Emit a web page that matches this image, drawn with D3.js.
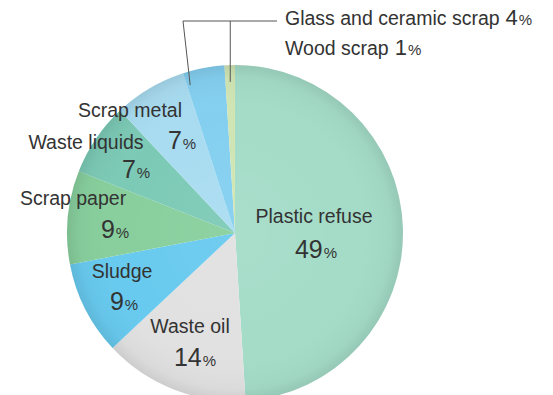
<!DOCTYPE html>
<html>
<head>
<meta charset="utf-8">
<script src="https://cdn.jsdelivr.net/npm/d3@7"></script>
<style>
  html, body { margin: 0; padding: 0; background: #ffffff; }
  svg { display: block; }
  text { font-family: "Liberation Sans", Arial, Helvetica, sans-serif; fill: #333333; }
</style>
</head>
<body>
<svg id="chart" width="553" height="395"></svg>
<script>
// Breakdown of industrial waste by type (percent), clockwise from 12 o'clock
const categories = ["Plastic refuse", "Waste oil", "Sludge", "Scrap paper",
                    "Waste liquids", "Scrap metal", "Glass and ceramic scrap", "Wood scrap"];
const shares = [49, 14, 9, 9, 7, 7, 4, 1];
const sliceColors = ["#a4dcc8", "#e1e1e1", "#68caef", "#88cf9d",
                     "#7bcab6", "#a9dcf1", "#84cff0", "#d0e5b3"];

// Label placement relative to the pie centre: [name dx, name dy, value dx, value dy]
const labelOffsets = [
  [79, -10, 81, 25],
  [-45, 100, -40, 133],
  [-113, 45, -111, 77],
  [-162, -28, -120, 5],
  [-149, -84, -99, -55],
  [-105, -116, -53, -84]
];
// Outside labels (glass, wood) sit in a column at the top right
const outsideLabel = { x: 285, y: [25, 55] };

const width = 553, height = 395;
const cx = 235, cy = 233, radius = 168;

const svg = d3.select("#chart");
const defs = svg.append("defs");

// Soft shading towards the rim of the disc
const shade = defs.append("radialGradient").attr("id", "rimShade")
  .attr("cx", "50%").attr("cy", "50%").attr("r", "50%");
shade.append("stop").attr("offset", "0%").attr("stop-color", "#ffffff").attr("stop-opacity", 0.06);
shade.append("stop").attr("offset", "70%").attr("stop-color", "#ffffff").attr("stop-opacity", 0);
shade.append("stop").attr("offset", "93%").attr("stop-color", "#000000").attr("stop-opacity", 0.03);
shade.append("stop").attr("offset", "100%").attr("stop-color", "#000000").attr("stop-opacity", 0.09);

const blur = defs.append("filter").attr("id", "soft").attr("x", "-5%").attr("y", "-5%")
  .attr("width", "110%").attr("height", "110%");
blur.append("feGaussianBlur").attr("stdDeviation", 0.6);

const g = svg.append("g").attr("transform", `translate(${cx},${cy})`);

const data = categories.map((c, i) => ({ name: c, value: shares[i], color: sliceColors[i] }));
const pie = d3.pie().value(d => d.value).sort(null);
const arcs = pie(data);
const arc = d3.arc().innerRadius(0).outerRadius(radius);

const slices = g.append("g").attr("filter", "url(#soft)");
slices.selectAll("path").data(arcs).join("path")
  .attr("d", arc)
  .attr("fill", d => d.data.color);

g.append("circle").attr("r", radius).attr("fill", "url(#rimShade)");

// Inside labels: name line, then value with a smaller percent sign
arcs.slice(0, 6).forEach((a, i) => {
  const [nx, ny, vx, vy] = labelOffsets[i];
  g.append("text").attr("x", nx).attr("y", ny)
    .attr("text-anchor", "middle").attr("font-size", 19.5)
    .text(a.data.name);
  const v = g.append("text").attr("x", vx).attr("y", vy)
    .attr("text-anchor", "middle");
  v.append("tspan").attr("font-size", 25).text(a.data.value);
  v.append("tspan").attr("font-size", 15).attr("dx", 1).text("%");
});

// Point on the disc at a given angle and radius (pie angles, clockwise from top)
const polar = (ang, r) => [cx + Math.sin(ang) * r, cy - Math.cos(ang) * r];

const glass = arcs[6], wood = arcs[7];
const glassPt = polar(glass.startAngle + 0.08 * (glass.endAngle - glass.startAngle), radius * 0.92);
const woodPt = polar((wood.startAngle + wood.endAngle) / 2, radius * 0.9);
const lineY = 21, elbowX = 183, lineEnd = 277;

const leaders = svg.append("g").attr("stroke", "#555555").attr("stroke-width", 1).attr("fill", "none");
leaders.append("path").attr("d", `M${glassPt[0]},${glassPt[1]} L${elbowX},${lineY} L${lineEnd},${lineY}`);
leaders.append("path").attr("d", `M${woodPt[0]},${woodPt[1]} L${woodPt[0]},${lineY}`);

[glass, wood].forEach((a, i) => {
  const t = svg.append("text").attr("x", outsideLabel.x).attr("y", outsideLabel.y[i]);
  t.append("tspan").attr("font-size", 19.5).text(a.data.name);
  t.append("tspan").attr("font-size", 22).attr("dx", 6).text(a.data.value);
  t.append("tspan").attr("font-size", 15).attr("dx", 1).text("%");
});
</script>
</body>
</html>
